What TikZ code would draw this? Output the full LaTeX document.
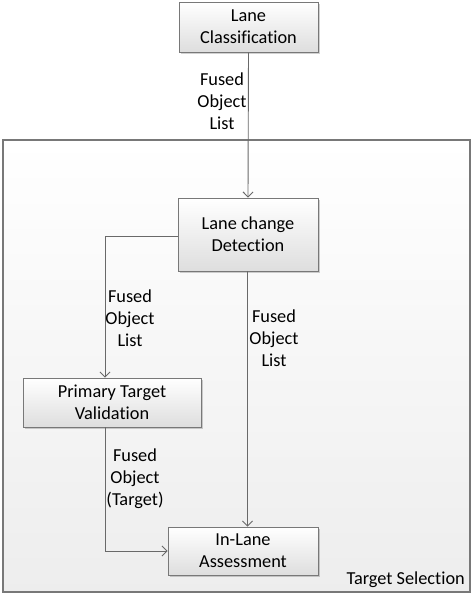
\documentclass[tikz,border=0pt]{standalone}
\usepackage{fontspec}
\setmainfont[Ligatures=NoCommon]{Carlito}
\usetikzlibrary{arrows.meta,shadows,positioning}
\definecolor{linegray}{RGB}{105,105,105}
\definecolor{boxline}{RGB}{120,120,120}
\tikzset{
  stepbox/.style={draw=boxline, line width=0.9pt, rectangle, top color=white, bottom color=black!13,
    align=center, inner sep=2pt, font=\fontsize{18.3}{22}\selectfont,
    drop shadow={shadow xshift=1.5pt, shadow yshift=-1.5pt, fill=black, opacity=0.18}},
  conn/.style={draw=linegray, line width=0.9pt, -{Straight Barb[length=5pt,width=10pt]}},
  lbl/.style={align=center, font=\fontsize{18.3}{22}\selectfont, inner sep=0pt},
}
\begin{document}
\begin{tikzpicture}[x=1pt,y=1pt]
\useasboundingbox (0,0) rectangle (474,-597);
% outer group
\node[draw=boxline, line width=1.3pt, top color=white, bottom color=black!7, minimum width=467pt, minimum height=452pt, inner sep=0pt] (ts) at (236.5,-366) {};
\node[lbl, anchor=south east] (tslbl) at (465,-588) {Target Selection};
% boxes
\node[stepbox, minimum width=139pt, minimum height=50pt] (lc) at (248.5,-27) {Lane\\Classification};
\node[stepbox, minimum width=140pt, minimum height=73pt] (lcd) at (248,-234.5) {Lane change\\Detection};
\node[stepbox, minimum width=178pt, minimum height=49pt] (ptv) at (112,-402.5) {Primary Target\\Validation};
\node[stepbox, minimum width=150pt, minimum height=48pt] (ila) at (243,-551) {In-Lane\\Assessment};
\coordinate (c1) at (105,-236);
\coordinate (c2) at (247.5,-300);
% connectors
\draw[conn] (lc.south) -- (lcd.north);
\draw[conn] (lcd.west |- c1) -| (ptv.north -| c1);
\draw[conn] (lcd.south -| c2) -- (ila.north -| c2);
\draw[conn] (ptv.south -| c1) |- (ila.west);
% labels
\node[lbl] (l1) at (222,-101) {Fused\\Object\\List};
\node[lbl] (l2) at (130,-318) {Fused\\Object\\List};
\node[lbl] (l3) at (274,-338) {Fused\\Object\\List};
\node[lbl] (l4) at (135,-479) {Fused\\Object\\(Target)};
\end{tikzpicture}
\end{document}
